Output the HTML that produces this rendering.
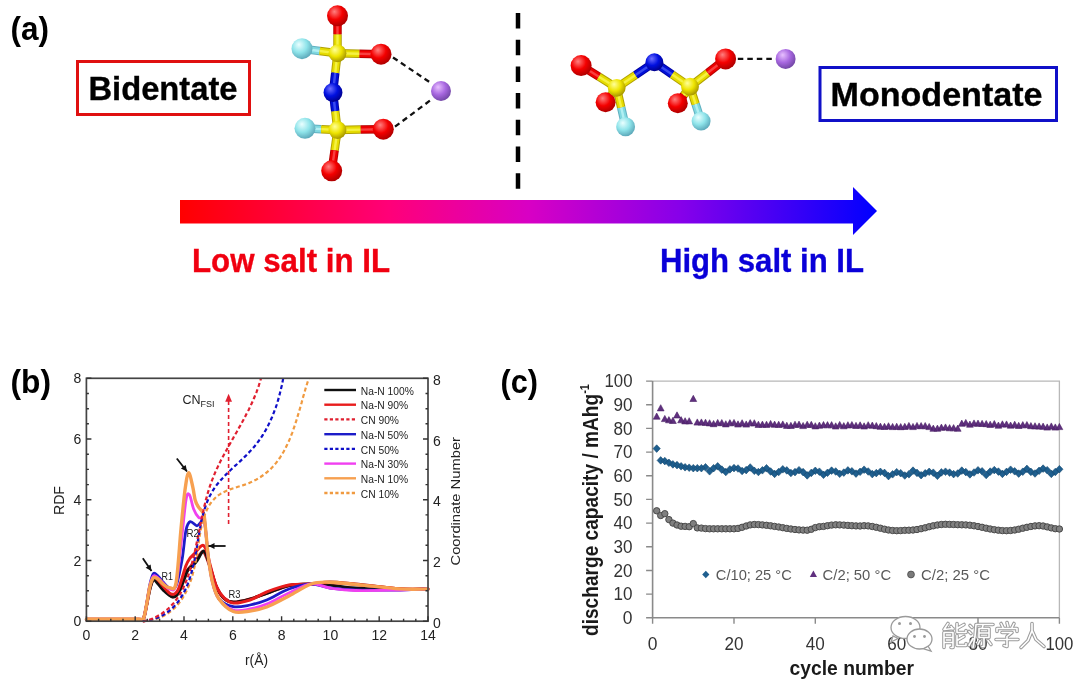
<!DOCTYPE html>
<html><head><meta charset="utf-8"><style>
html,body{margin:0;padding:0;background:#fff;}
svg{display:block;font-family:"Liberation Sans", sans-serif;filter:blur(0.45px);}
</style></head><body>
<svg width="1080" height="683" viewBox="0 0 1080 683">
<rect width="1080" height="683" fill="#fff"/>
<defs>
<radialGradient id="gO" cx="0.4" cy="0.35" r="0.65" fx="0.35" fy="0.3"><stop offset="0" stop-color="#ff8080"/><stop offset="0.55" stop-color="#f40000"/><stop offset="1" stop-color="#b00000"/></radialGradient>
<radialGradient id="gS" cx="0.4" cy="0.35" r="0.65" fx="0.35" fy="0.3"><stop offset="0" stop-color="#ffff9a"/><stop offset="0.55" stop-color="#eee400"/><stop offset="1" stop-color="#a89800"/></radialGradient>
<radialGradient id="gN" cx="0.4" cy="0.35" r="0.65" fx="0.35" fy="0.3"><stop offset="0" stop-color="#7070ff"/><stop offset="0.55" stop-color="#0010e0"/><stop offset="1" stop-color="#000090"/></radialGradient>
<radialGradient id="gF" cx="0.4" cy="0.35" r="0.65" fx="0.35" fy="0.3"><stop offset="0" stop-color="#eaffff"/><stop offset="0.55" stop-color="#8fe4ea"/><stop offset="1" stop-color="#5eaabb"/></radialGradient>
<radialGradient id="gNa" cx="0.4" cy="0.35" r="0.65" fx="0.35" fy="0.3"><stop offset="0" stop-color="#e8c0ff"/><stop offset="0.55" stop-color="#a868e0"/><stop offset="1" stop-color="#7448a8"/></radialGradient>
<linearGradient id="arr" x1="180" y1="0" x2="877" y2="0" gradientUnits="userSpaceOnUse"><stop offset="0" stop-color="#ff0000"/><stop offset="0.3" stop-color="#ff0078"/><stop offset="0.5" stop-color="#d800c4"/><stop offset="0.72" stop-color="#8600ea"/><stop offset="1" stop-color="#0000ff"/></linearGradient>
</defs>
<text x="10.5" y="40" font-size="33.5" font-weight="bold" fill="#000" text-anchor="start" textLength="38.5" lengthAdjust="spacingAndGlyphs" >(a)</text>
<rect x="77.5" y="61.5" width="172" height="53" fill="none" stroke="#e01010" stroke-width="3"/>
<text x="88.5" y="100" font-size="33.5" font-weight="bold" fill="#000" text-anchor="start" textLength="149" lengthAdjust="spacingAndGlyphs"  stroke="#000" stroke-width="0.35">Bidentate</text>
<rect x="820" y="67.5" width="236.5" height="53" fill="none" stroke="#1010c8" stroke-width="3"/>
<text x="830.5" y="105.7" font-size="32.5" font-weight="bold" fill="#000" text-anchor="start" textLength="212" lengthAdjust="spacingAndGlyphs"  stroke="#000" stroke-width="0.35">Monodentate</text>
<line x1="518" y1="13" x2="518" y2="190" stroke="#000" stroke-width="4.5" stroke-dasharray="15.5 11.2"/>
<polygon points="180,200 853,200 853,187 877,211 853,235 853,223.5 180,223.5" fill="url(#arr)"/>
<text x="192" y="271.7" font-size="32.8" font-weight="bold" fill="#f00010" text-anchor="start" textLength="198" lengthAdjust="spacingAndGlyphs"  stroke="#f00010" stroke-width="0.35">Low salt in IL</text>
<text x="660" y="271.7" font-size="32.8" font-weight="bold" fill="#0a00d8" text-anchor="start" textLength="204" lengthAdjust="spacingAndGlyphs"  stroke="#0a00d8" stroke-width="0.35">High salt in IL</text>
<line x1="337.5" y1="15.8" x2="337.5" y2="34.55" stroke="#b80000" stroke-width="8.5"/>
<line x1="337.5" y1="15.8" x2="337.5" y2="34.55" stroke="#ee0000" stroke-width="6.5"/>
<line x1="337.5" y1="15.8" x2="337.5" y2="34.55" stroke="#ff6a6a" stroke-width="2.4" opacity="0.6"/>
<line x1="337.5" y1="34.55" x2="337.5" y2="53.3" stroke="#b0a000" stroke-width="8.5"/>
<line x1="337.5" y1="34.55" x2="337.5" y2="53.3" stroke="#e6dc00" stroke-width="6.5"/>
<line x1="337.5" y1="34.55" x2="337.5" y2="53.3" stroke="#ffff70" stroke-width="2.4" opacity="0.6"/>
<line x1="302" y1="48.7" x2="319.75" y2="51.0" stroke="#60b0c0" stroke-width="8.5"/>
<line x1="302" y1="48.7" x2="319.75" y2="51.0" stroke="#80d8e0" stroke-width="6.5"/>
<line x1="302" y1="48.7" x2="319.75" y2="51.0" stroke="#d0ffff" stroke-width="2.4" opacity="0.6"/>
<line x1="319.75" y1="51.0" x2="337.5" y2="53.3" stroke="#b0a000" stroke-width="8.5"/>
<line x1="319.75" y1="51.0" x2="337.5" y2="53.3" stroke="#e6dc00" stroke-width="6.5"/>
<line x1="319.75" y1="51.0" x2="337.5" y2="53.3" stroke="#ffff70" stroke-width="2.4" opacity="0.6"/>
<line x1="381" y1="54.2" x2="359.25" y2="53.75" stroke="#b80000" stroke-width="8.5"/>
<line x1="381" y1="54.2" x2="359.25" y2="53.75" stroke="#ee0000" stroke-width="6.5"/>
<line x1="381" y1="54.2" x2="359.25" y2="53.75" stroke="#ff6a6a" stroke-width="2.4" opacity="0.6"/>
<line x1="359.25" y1="53.75" x2="337.5" y2="53.3" stroke="#b0a000" stroke-width="8.5"/>
<line x1="359.25" y1="53.75" x2="337.5" y2="53.3" stroke="#e6dc00" stroke-width="6.5"/>
<line x1="359.25" y1="53.75" x2="337.5" y2="53.3" stroke="#ffff70" stroke-width="2.4" opacity="0.6"/>
<line x1="337.5" y1="53.3" x2="335.25" y2="72.9" stroke="#b0a000" stroke-width="8.5"/>
<line x1="337.5" y1="53.3" x2="335.25" y2="72.9" stroke="#e6dc00" stroke-width="6.5"/>
<line x1="337.5" y1="53.3" x2="335.25" y2="72.9" stroke="#ffff70" stroke-width="2.4" opacity="0.6"/>
<line x1="335.25" y1="72.9" x2="333" y2="92.5" stroke="#0000a0" stroke-width="8.5"/>
<line x1="335.25" y1="72.9" x2="333" y2="92.5" stroke="#0010d8" stroke-width="6.5"/>
<line x1="335.25" y1="72.9" x2="333" y2="92.5" stroke="#6070ff" stroke-width="2.4" opacity="0.6"/>
<line x1="333" y1="92.5" x2="335.25" y2="111.25" stroke="#0000a0" stroke-width="8.5"/>
<line x1="333" y1="92.5" x2="335.25" y2="111.25" stroke="#0010d8" stroke-width="6.5"/>
<line x1="333" y1="92.5" x2="335.25" y2="111.25" stroke="#6070ff" stroke-width="2.4" opacity="0.6"/>
<line x1="335.25" y1="111.25" x2="337.5" y2="130" stroke="#b0a000" stroke-width="8.5"/>
<line x1="335.25" y1="111.25" x2="337.5" y2="130" stroke="#e6dc00" stroke-width="6.5"/>
<line x1="335.25" y1="111.25" x2="337.5" y2="130" stroke="#ffff70" stroke-width="2.4" opacity="0.6"/>
<line x1="305" y1="128.3" x2="321.25" y2="129.15" stroke="#60b0c0" stroke-width="8.5"/>
<line x1="305" y1="128.3" x2="321.25" y2="129.15" stroke="#80d8e0" stroke-width="6.5"/>
<line x1="305" y1="128.3" x2="321.25" y2="129.15" stroke="#d0ffff" stroke-width="2.4" opacity="0.6"/>
<line x1="321.25" y1="129.15" x2="337.5" y2="130" stroke="#b0a000" stroke-width="8.5"/>
<line x1="321.25" y1="129.15" x2="337.5" y2="130" stroke="#e6dc00" stroke-width="6.5"/>
<line x1="321.25" y1="129.15" x2="337.5" y2="130" stroke="#ffff70" stroke-width="2.4" opacity="0.6"/>
<line x1="383.3" y1="129.2" x2="360.4" y2="129.6" stroke="#b80000" stroke-width="8.5"/>
<line x1="383.3" y1="129.2" x2="360.4" y2="129.6" stroke="#ee0000" stroke-width="6.5"/>
<line x1="383.3" y1="129.2" x2="360.4" y2="129.6" stroke="#ff6a6a" stroke-width="2.4" opacity="0.6"/>
<line x1="360.4" y1="129.6" x2="337.5" y2="130" stroke="#b0a000" stroke-width="8.5"/>
<line x1="360.4" y1="129.6" x2="337.5" y2="130" stroke="#e6dc00" stroke-width="6.5"/>
<line x1="360.4" y1="129.6" x2="337.5" y2="130" stroke="#ffff70" stroke-width="2.4" opacity="0.6"/>
<line x1="337.5" y1="130" x2="334.6" y2="150.4" stroke="#b0a000" stroke-width="8.5"/>
<line x1="337.5" y1="130" x2="334.6" y2="150.4" stroke="#e6dc00" stroke-width="6.5"/>
<line x1="337.5" y1="130" x2="334.6" y2="150.4" stroke="#ffff70" stroke-width="2.4" opacity="0.6"/>
<line x1="334.6" y1="150.4" x2="331.7" y2="170.8" stroke="#b80000" stroke-width="8.5"/>
<line x1="334.6" y1="150.4" x2="331.7" y2="170.8" stroke="#ee0000" stroke-width="6.5"/>
<line x1="334.6" y1="150.4" x2="331.7" y2="170.8" stroke="#ff6a6a" stroke-width="2.4" opacity="0.6"/>
<line x1="393" y1="57.5" x2="431" y2="83" stroke="#111" stroke-width="2.3" stroke-dasharray="5.5 4"/>
<line x1="395" y1="126.7" x2="430.8" y2="100" stroke="#111" stroke-width="2.3" stroke-dasharray="5.5 4"/>
<circle cx="337.5" cy="15.8" r="10.5" fill="url(#gO)"/>
<circle cx="337.5" cy="53.3" r="8.925" fill="url(#gS)"/>
<circle cx="302" cy="48.7" r="10.5" fill="url(#gF)"/>
<circle cx="381" cy="54.2" r="10.5" fill="url(#gO)"/>
<circle cx="333" cy="92.5" r="9.450000000000001" fill="url(#gN)"/>
<circle cx="337.5" cy="130" r="8.925" fill="url(#gS)"/>
<circle cx="305" cy="128.3" r="10.5" fill="url(#gF)"/>
<circle cx="383.3" cy="129.2" r="10.5" fill="url(#gO)"/>
<circle cx="331.7" cy="170.8" r="10.5" fill="url(#gO)"/>
<circle cx="441" cy="91" r="9.975" fill="url(#gNa)"/>
<line x1="581.1" y1="65.6" x2="598.9000000000001" y2="76.69999999999999" stroke="#b80000" stroke-width="8.5"/>
<line x1="581.1" y1="65.6" x2="598.9000000000001" y2="76.69999999999999" stroke="#ee0000" stroke-width="6.5"/>
<line x1="581.1" y1="65.6" x2="598.9000000000001" y2="76.69999999999999" stroke="#ff6a6a" stroke-width="2.4" opacity="0.6"/>
<line x1="598.9000000000001" y1="76.69999999999999" x2="616.7" y2="87.8" stroke="#b0a000" stroke-width="8.5"/>
<line x1="598.9000000000001" y1="76.69999999999999" x2="616.7" y2="87.8" stroke="#e6dc00" stroke-width="6.5"/>
<line x1="598.9000000000001" y1="76.69999999999999" x2="616.7" y2="87.8" stroke="#ffff70" stroke-width="2.4" opacity="0.6"/>
<line x1="605.6" y1="102.2" x2="611.1500000000001" y2="95.0" stroke="#b80000" stroke-width="8.5"/>
<line x1="605.6" y1="102.2" x2="611.1500000000001" y2="95.0" stroke="#ee0000" stroke-width="6.5"/>
<line x1="605.6" y1="102.2" x2="611.1500000000001" y2="95.0" stroke="#ff6a6a" stroke-width="2.4" opacity="0.6"/>
<line x1="611.1500000000001" y1="95.0" x2="616.7" y2="87.8" stroke="#b0a000" stroke-width="8.5"/>
<line x1="611.1500000000001" y1="95.0" x2="616.7" y2="87.8" stroke="#e6dc00" stroke-width="6.5"/>
<line x1="611.1500000000001" y1="95.0" x2="616.7" y2="87.8" stroke="#ffff70" stroke-width="2.4" opacity="0.6"/>
<line x1="625.6" y1="126.7" x2="621.1500000000001" y2="107.25" stroke="#60b0c0" stroke-width="8.5"/>
<line x1="625.6" y1="126.7" x2="621.1500000000001" y2="107.25" stroke="#80d8e0" stroke-width="6.5"/>
<line x1="625.6" y1="126.7" x2="621.1500000000001" y2="107.25" stroke="#d0ffff" stroke-width="2.4" opacity="0.6"/>
<line x1="621.1500000000001" y1="107.25" x2="616.7" y2="87.8" stroke="#b0a000" stroke-width="8.5"/>
<line x1="621.1500000000001" y1="107.25" x2="616.7" y2="87.8" stroke="#e6dc00" stroke-width="6.5"/>
<line x1="621.1500000000001" y1="107.25" x2="616.7" y2="87.8" stroke="#ffff70" stroke-width="2.4" opacity="0.6"/>
<line x1="616.7" y1="87.8" x2="635.55" y2="75.0" stroke="#b0a000" stroke-width="8.5"/>
<line x1="616.7" y1="87.8" x2="635.55" y2="75.0" stroke="#e6dc00" stroke-width="6.5"/>
<line x1="616.7" y1="87.8" x2="635.55" y2="75.0" stroke="#ffff70" stroke-width="2.4" opacity="0.6"/>
<line x1="635.55" y1="75.0" x2="654.4" y2="62.2" stroke="#0000a0" stroke-width="8.5"/>
<line x1="635.55" y1="75.0" x2="654.4" y2="62.2" stroke="#0010d8" stroke-width="6.5"/>
<line x1="635.55" y1="75.0" x2="654.4" y2="62.2" stroke="#6070ff" stroke-width="2.4" opacity="0.6"/>
<line x1="654.4" y1="62.2" x2="672.2" y2="74.45" stroke="#0000a0" stroke-width="8.5"/>
<line x1="654.4" y1="62.2" x2="672.2" y2="74.45" stroke="#0010d8" stroke-width="6.5"/>
<line x1="654.4" y1="62.2" x2="672.2" y2="74.45" stroke="#6070ff" stroke-width="2.4" opacity="0.6"/>
<line x1="672.2" y1="74.45" x2="690" y2="86.7" stroke="#b0a000" stroke-width="8.5"/>
<line x1="672.2" y1="74.45" x2="690" y2="86.7" stroke="#e6dc00" stroke-width="6.5"/>
<line x1="672.2" y1="74.45" x2="690" y2="86.7" stroke="#ffff70" stroke-width="2.4" opacity="0.6"/>
<line x1="677.8" y1="103.3" x2="683.9" y2="95.0" stroke="#b80000" stroke-width="8.5"/>
<line x1="677.8" y1="103.3" x2="683.9" y2="95.0" stroke="#ee0000" stroke-width="6.5"/>
<line x1="677.8" y1="103.3" x2="683.9" y2="95.0" stroke="#ff6a6a" stroke-width="2.4" opacity="0.6"/>
<line x1="683.9" y1="95.0" x2="690" y2="86.7" stroke="#b0a000" stroke-width="8.5"/>
<line x1="683.9" y1="95.0" x2="690" y2="86.7" stroke="#e6dc00" stroke-width="6.5"/>
<line x1="683.9" y1="95.0" x2="690" y2="86.7" stroke="#ffff70" stroke-width="2.4" opacity="0.6"/>
<line x1="701.1" y1="121.1" x2="695.55" y2="103.9" stroke="#60b0c0" stroke-width="8.5"/>
<line x1="701.1" y1="121.1" x2="695.55" y2="103.9" stroke="#80d8e0" stroke-width="6.5"/>
<line x1="701.1" y1="121.1" x2="695.55" y2="103.9" stroke="#d0ffff" stroke-width="2.4" opacity="0.6"/>
<line x1="695.55" y1="103.9" x2="690" y2="86.7" stroke="#b0a000" stroke-width="8.5"/>
<line x1="695.55" y1="103.9" x2="690" y2="86.7" stroke="#e6dc00" stroke-width="6.5"/>
<line x1="695.55" y1="103.9" x2="690" y2="86.7" stroke="#ffff70" stroke-width="2.4" opacity="0.6"/>
<line x1="690" y1="86.7" x2="707.8" y2="72.8" stroke="#b0a000" stroke-width="8.5"/>
<line x1="690" y1="86.7" x2="707.8" y2="72.8" stroke="#e6dc00" stroke-width="6.5"/>
<line x1="690" y1="86.7" x2="707.8" y2="72.8" stroke="#ffff70" stroke-width="2.4" opacity="0.6"/>
<line x1="707.8" y1="72.8" x2="725.6" y2="58.9" stroke="#b80000" stroke-width="8.5"/>
<line x1="707.8" y1="72.8" x2="725.6" y2="58.9" stroke="#ee0000" stroke-width="6.5"/>
<line x1="707.8" y1="72.8" x2="725.6" y2="58.9" stroke="#ff6a6a" stroke-width="2.4" opacity="0.6"/>
<line x1="737.8" y1="58.9" x2="774.4" y2="58.9" stroke="#111" stroke-width="2.3" stroke-dasharray="5.5 4"/>
<circle cx="605.6" cy="102.2" r="9.975" fill="url(#gO)"/>
<circle cx="677.8" cy="103.3" r="9.975" fill="url(#gO)"/>
<circle cx="625.6" cy="126.7" r="9.450000000000001" fill="url(#gF)"/>
<circle cx="701.1" cy="121.1" r="9.450000000000001" fill="url(#gF)"/>
<circle cx="616.7" cy="87.8" r="8.925" fill="url(#gS)"/>
<circle cx="690" cy="86.7" r="8.925" fill="url(#gS)"/>
<circle cx="581.1" cy="65.6" r="10.5" fill="url(#gO)"/>
<circle cx="654.4" cy="62.2" r="8.925" fill="url(#gN)"/>
<circle cx="725.6" cy="58.9" r="10.5" fill="url(#gO)"/>
<circle cx="785.6" cy="58.9" r="9.975" fill="url(#gNa)"/>
<text x="10.5" y="392.5" font-size="33" font-weight="bold" fill="#000" text-anchor="start" textLength="40.5" lengthAdjust="spacingAndGlyphs" >(b)</text>
<g fill="none" stroke-linejoin="round" stroke-linecap="round">
<path d="M86.4,619.3 C95.0,619.3 128.5,619.3 138.0,619.3 C147.5,619.2 141.9,621.2 143.3,619.0 C144.7,616.8 145.4,611.2 146.5,606.0 C147.6,600.8 148.8,592.5 150.0,588.0 C151.2,583.5 152.2,580.0 153.5,579.0 C154.8,578.0 156.4,580.5 158.0,582.0 C159.6,583.5 160.7,585.6 163.0,588.0 C165.3,590.4 169.4,595.7 171.9,596.5 C174.4,597.3 175.7,596.9 178.0,593.0 C180.3,589.1 183.5,577.7 185.8,573.0 C188.1,568.3 190.0,567.3 191.9,565.0 C193.8,562.7 195.2,561.2 197.0,559.0 C198.8,556.8 201.2,552.0 202.7,551.5 C204.2,551.0 204.7,553.2 206.0,556.0 C207.3,558.8 208.7,562.8 210.4,568.0 C212.2,573.2 214.2,581.9 216.5,587.0 C218.8,592.1 221.4,596.0 224.2,598.5 C227.0,601.0 229.0,602.1 233.3,602.2 C237.6,602.3 244.4,600.5 250.0,599.0 C255.6,597.5 260.2,595.5 266.7,593.3 C273.2,591.1 281.5,587.1 288.9,585.6 C296.3,584.1 304.2,584.6 311.1,584.0 C318.0,583.4 322.6,582.0 330.0,582.0 C337.4,582.0 343.9,582.9 355.6,584.0 C367.3,585.1 387.9,588.1 400.0,588.9 C412.1,589.7 423.3,589.0 428.0,589.0" stroke="#b01818" stroke-width="3.2"/>
<path d="M86.4,619.3 C95.0,619.3 128.5,619.3 138.0,619.3 C147.5,619.2 141.9,621.2 143.3,619.0 C144.7,616.8 145.4,611.0 146.5,606.0 C147.6,601.0 148.8,593.3 150.0,589.0 C151.2,584.7 152.2,580.8 153.5,580.0 C154.8,579.2 156.4,582.3 158.0,584.0 C159.6,585.7 160.7,587.9 163.0,590.0 C165.3,592.1 169.4,596.2 171.9,596.9 C174.4,597.6 176.0,596.8 178.0,594.0 C180.0,591.2 182.3,584.0 184.0,580.0 C185.7,576.0 186.7,572.2 188.0,570.0 C189.3,567.8 190.4,568.0 191.9,566.5 C193.4,565.0 195.2,563.5 197.0,561.0 C198.8,558.5 201.2,552.7 202.7,551.5 C204.2,550.3 204.7,551.2 206.0,554.0 C207.3,556.8 208.7,562.5 210.4,568.0 C212.2,573.5 214.2,581.9 216.5,587.0 C218.8,592.1 221.4,596.0 224.2,598.5 C227.0,601.0 229.0,602.1 233.3,602.2 C237.6,602.3 244.4,600.5 250.0,599.0 C255.6,597.5 260.2,595.5 266.7,593.3 C273.2,591.1 281.5,587.1 288.9,585.6 C296.3,584.1 304.2,584.1 311.1,584.0 C318.0,583.9 322.6,584.3 330.0,585.0 C337.4,585.7 343.9,587.2 355.6,588.0 C367.3,588.8 387.9,589.3 400.0,589.5 C412.1,589.7 423.3,589.1 428.0,589.0" stroke="#101010" stroke-width="2.8"/>
<path d="M86.4,619.3 C95.0,619.3 128.5,619.3 138.0,619.3 C147.5,619.2 141.9,621.4 143.3,619.0 C144.7,616.6 145.4,610.5 146.5,605.0 C147.6,599.5 148.8,590.7 150.0,586.0 C151.2,581.3 152.2,578.0 153.5,577.0 C154.8,576.0 156.4,578.5 158.0,580.0 C159.6,581.5 160.8,583.7 163.0,586.0 C165.2,588.3 168.5,593.3 171.0,594.0 C173.5,594.7 175.5,594.7 178.0,590.0 C180.5,585.3 183.7,571.4 185.8,566.0 C187.9,560.6 188.9,559.9 190.4,557.7 C191.9,555.5 193.4,554.8 195.0,553.0 C196.6,551.2 198.6,548.3 200.0,547.0 C201.4,545.7 202.3,544.6 203.5,545.4 C204.7,546.2 205.8,548.6 207.0,552.0 C208.2,555.4 208.8,560.2 210.4,566.0 C212.0,571.8 214.2,581.3 216.5,586.6 C218.8,591.9 221.4,595.3 224.2,598.0 C227.0,600.7 229.0,602.7 233.3,603.0 C237.6,603.3 244.4,601.8 250.0,600.0 C255.6,598.2 260.2,594.5 266.7,592.0 C273.2,589.5 281.5,586.3 288.9,585.0 C296.3,583.7 304.2,584.4 311.1,584.0 C318.0,583.6 322.6,582.4 330.0,582.5 C337.4,582.6 343.9,583.3 355.6,584.4 C367.3,585.5 387.9,588.1 400.0,588.9 C412.1,589.7 423.3,589.0 428.0,589.0" stroke="#e81c1c" stroke-width="3"/>
<path d="M86.4,619.3 C95.0,619.3 128.5,619.3 138.0,619.3 C147.5,619.2 141.9,621.4 143.3,619.0 C144.7,616.6 145.4,610.8 146.5,605.0 C147.6,599.2 148.8,589.2 150.0,584.0 C151.2,578.8 152.2,574.8 153.5,573.5 C154.8,572.2 156.4,574.6 158.0,576.0 C159.6,577.4 161.1,580.0 163.0,582.0 C164.9,584.0 167.4,587.3 169.6,588.0 C171.8,588.7 173.9,590.7 176.0,586.0 C178.1,581.3 180.3,569.3 182.0,560.0 C183.7,550.7 184.6,536.4 186.0,530.0 C187.4,523.6 188.5,522.3 190.3,521.6 C192.1,520.9 195.2,525.8 197.0,525.8 C198.8,525.8 200.0,522.9 201.2,521.6 C202.4,520.3 203.3,516.6 204.0,518.0 C204.7,519.4 204.8,523.1 205.6,530.0 C206.4,536.9 207.4,550.8 208.6,559.5 C209.8,568.2 210.8,575.6 212.5,582.2 C214.2,588.8 215.5,594.9 219.0,599.0 C222.5,603.1 228.1,605.7 233.3,606.7 C238.5,607.7 244.4,606.1 250.0,605.0 C255.6,603.9 260.2,602.7 266.7,600.0 C273.2,597.3 281.5,591.7 288.9,589.0 C296.3,586.3 304.2,584.2 311.1,584.0 C318.0,583.8 322.6,587.0 330.0,588.0 C337.4,589.0 343.9,589.7 355.6,590.0 C367.3,590.3 387.9,590.2 400.0,590.0 C412.1,589.8 423.3,589.2 428.0,589.0" stroke="#1c1cc8" stroke-width="2.8"/>
<path d="M86.4,619.3 C95.0,619.3 128.5,619.3 138.0,619.3 C147.5,619.2 141.9,621.4 143.3,619.0 C144.7,616.6 145.4,610.7 146.5,605.0 C147.6,599.3 148.8,589.8 150.0,585.0 C151.2,580.2 152.2,577.2 153.5,576.0 C154.8,574.8 156.4,576.8 158.0,578.0 C159.6,579.2 161.1,581.2 163.0,583.0 C164.9,584.8 167.4,588.7 169.6,589.0 C171.8,589.3 174.0,593.2 176.0,585.0 C178.0,576.8 179.8,554.2 181.5,540.0 C183.2,525.8 184.7,507.6 186.0,500.0 C187.3,492.4 188.1,493.2 189.4,494.7 C190.7,496.2 192.1,505.2 193.6,509.0 C195.1,512.8 197.0,515.8 198.7,517.4 C200.3,519.0 202.3,516.4 203.5,518.5 C204.7,520.6 204.8,523.2 205.6,530.0 C206.4,536.8 207.4,550.8 208.6,559.5 C209.8,568.2 210.8,575.6 212.5,582.2 C214.2,588.8 215.5,594.4 219.0,599.0 C222.5,603.6 228.1,608.3 233.3,610.0 C238.5,611.7 244.4,610.0 250.0,609.0 C255.6,608.0 260.2,606.7 266.7,604.0 C273.2,601.3 281.5,596.3 288.9,593.0 C296.3,589.7 304.2,584.8 311.1,584.0 C318.0,583.2 322.6,586.9 330.0,588.0 C337.4,589.1 343.9,590.2 355.6,590.5 C367.3,590.8 387.9,590.2 400.0,590.0 C412.1,589.8 423.3,589.2 428.0,589.0" stroke="#f040f0" stroke-width="2.8"/>
<path d="M86.4,619.3 C95.0,619.3 128.5,619.3 138.0,619.3 C147.5,619.2 141.9,621.4 143.3,619.0 C144.7,616.6 145.4,610.5 146.5,605.0 C147.6,599.5 148.8,590.5 150.0,586.0 C151.2,581.5 152.2,578.9 153.5,577.7 C154.8,576.5 156.4,578.0 158.0,579.0 C159.6,580.0 161.1,582.5 163.0,584.0 C164.9,585.5 167.4,587.9 169.6,587.7 C171.8,587.5 174.1,592.8 176.0,583.0 C177.9,573.2 179.5,544.5 181.0,529.0 C182.5,513.5 183.7,499.4 185.0,490.0 C186.3,480.6 187.3,473.3 188.6,472.8 C189.9,472.3 191.7,482.5 192.8,487.1 C193.9,491.7 194.3,497.2 195.3,500.6 C196.3,504.0 197.3,505.1 198.7,507.3 C200.1,509.5 202.5,510.4 203.7,514.0 C204.8,517.6 204.8,521.6 205.6,529.2 C206.4,536.8 207.4,550.7 208.6,559.5 C209.8,568.3 210.8,575.6 212.5,582.2 C214.2,588.8 215.5,594.1 219.0,599.0 C222.5,603.9 228.1,609.5 233.3,611.5 C238.5,613.5 244.4,611.8 250.0,611.0 C255.6,610.2 260.2,609.5 266.7,607.0 C273.2,604.5 281.5,599.8 288.9,596.0 C296.3,592.2 304.4,586.3 311.1,584.0 C317.8,581.7 321.5,582.1 328.9,582.2 C336.3,582.3 343.8,583.3 355.6,584.4 C367.5,585.5 387.9,588.1 400.0,588.9 C412.1,589.7 423.3,589.0 428.0,589.0" stroke="#f7a050" stroke-width="3.4"/>
<path d="M142.7,621.1 L145.8,620.9 L148.8,620.5 L151.6,620.0 L154.4,619.4 L157.0,618.6 L159.5,617.7 L161.9,616.7 L164.3,615.5 L166.5,614.3 L168.6,612.9 L170.6,611.4 L172.6,609.8 L174.4,608.2 L176.2,606.4 L177.9,604.5 L179.4,602.6 L181.0,600.5 L182.4,598.4 L183.7,596.2 L185.0,594.0 L186.2,591.6 L187.4,589.2 L188.4,586.8 L189.4,584.3 L190.4,581.7 L191.3,579.1 L192.1,576.5 L192.8,573.8 L193.5,571.1 L194.2,568.3 L194.8,565.6 L195.4,562.8 L195.9,560.0 L196.4,557.2 L196.9,554.3 L197.3,551.5 L197.7,548.7 L198.1,545.8 L198.6,543.0 L199.0,540.2 L199.4,537.5 L199.9,534.7 L200.4,532.0 L200.9,529.3 L201.4,526.7 L202.0,524.1 L202.7,521.5 L203.4,519.0 L204.1,516.6 L205.0,514.2 L205.9,511.9 L206.9,509.7 L208.0,507.6 L209.1,505.5 L210.4,503.5 L211.8,501.6 L213.3,499.9 L214.9,498.2 L216.7,496.6 L218.6,495.1 L220.6,493.8 L222.8,492.5 L225.1,491.4 L227.6,490.4 L230.1,489.4 L232.7,488.5 L235.3,487.7 L238.0,486.8 L240.7,486.0 L243.4,485.1 L246.1,484.2 L248.7,483.2 L251.2,482.1 L253.6,480.9 L256.0,479.7 L258.3,478.4 L260.5,477.0 L262.7,475.5 L264.8,474.0 L266.8,472.3 L268.8,470.6 L270.7,468.9 L272.5,467.0 L274.2,465.1 L275.9,463.1 L277.5,461.1 L279.0,459.0 L280.5,456.8 L281.9,454.5 L283.3,452.2 L284.6,449.9 L285.8,447.5 L287.0,445.1 L288.2,442.6 L289.3,440.1 L290.4,437.5 L291.4,434.9 L292.4,432.3 L293.3,429.7 L294.2,427.1 L295.1,424.4 L296.0,421.7 L296.8,419.1 L297.6,416.4 L298.4,413.7 L299.2,411.0 L300.0,408.4 L300.7,405.7 L301.5,403.1 L302.2,400.5 L302.9,397.9 L303.6,395.3 L304.4,392.8 L305.1,390.3 L305.8,387.8 L306.6,385.4 L307.3,383.0 L308.1,380.7 L308.9,378.4" stroke="#f09a40" stroke-width="2.2" stroke-dasharray="4 2.6" stroke-linecap="butt"/>
<path d="M142.7,621.1 L145.5,620.8 L148.3,620.3 L150.9,619.8 L153.5,619.1 L156.0,618.3 L158.3,617.4 L160.6,616.3 L162.7,615.2 L164.8,614.0 L166.8,612.7 L168.7,611.3 L170.5,609.8 L172.3,608.2 L173.9,606.6 L175.5,604.9 L177.0,603.1 L178.5,601.2 L179.8,599.2 L181.1,597.2 L182.4,595.2 L183.5,593.1 L184.7,590.9 L185.7,588.7 L186.7,586.4 L187.7,584.1 L188.5,581.8 L189.4,579.4 L190.2,577.0 L190.9,574.6 L191.6,572.1 L192.3,569.7 L192.9,567.2 L193.5,564.7 L194.1,562.1 L194.6,559.6 L195.1,557.1 L195.6,554.6 L196.0,552.0 L196.5,549.5 L196.9,546.9 L197.3,544.4 L197.7,541.9 L198.1,539.3 L198.6,536.8 L199.0,534.3 L199.4,531.8 L199.9,529.3 L200.3,526.8 L200.8,524.4 L201.3,521.9 L201.8,519.5 L202.4,517.1 L203.0,514.7 L203.6,512.4 L204.3,510.0 L205.0,507.8 L205.8,505.5 L206.6,503.2 L207.5,501.0 L208.4,498.9 L209.4,496.7 L210.5,494.7 L211.6,492.6 L212.8,490.6 L214.1,488.6 L215.4,486.7 L216.8,484.8 L218.3,483.0 L219.8,481.2 L221.4,479.4 L223.1,477.6 L224.7,475.8 L226.4,474.1 L228.2,472.4 L229.9,470.7 L231.7,469.0 L233.5,467.3 L235.3,465.6 L237.2,464.0 L239.0,462.3 L240.8,460.6 L242.6,458.9 L244.4,457.1 L246.2,455.4 L247.9,453.6 L249.6,451.8 L251.3,450.0 L253.0,448.2 L254.6,446.3 L256.1,444.4 L257.6,442.4 L259.1,440.5 L260.5,438.4 L261.9,436.4 L263.2,434.3 L264.4,432.2 L265.7,430.1 L266.9,427.9 L268.0,425.7 L269.1,423.5 L270.2,421.2 L271.2,419.0 L272.2,416.7 L273.1,414.4 L274.0,412.1 L274.9,409.7 L275.8,407.4 L276.6,405.0 L277.3,402.6 L278.1,400.2 L278.7,397.8 L279.4,395.3 L280.0,392.9 L280.6,390.4 L281.2,388.0 L281.8,385.5 L282.3,383.0 L282.8,380.6 L283.2,378.1" stroke="#1010c8" stroke-width="2.2" stroke-dasharray="4 2.6" stroke-linecap="butt"/>
<path d="M143.0,621.7 L145.6,621.0 L148.1,620.2 L150.6,619.3 L152.9,618.4 L155.2,617.3 L157.3,616.2 L159.4,615.1 L161.4,613.8 L163.3,612.5 L165.2,611.2 L166.9,609.8 L168.6,608.3 L170.3,606.7 L171.8,605.1 L173.3,603.5 L174.7,601.8 L176.0,600.0 L177.3,598.2 L178.6,596.4 L179.7,594.5 L180.9,592.6 L181.9,590.6 L183.0,588.6 L183.9,586.5 L184.9,584.5 L185.7,582.4 L186.6,580.2 L187.4,578.1 L188.2,575.9 L188.9,573.7 L189.6,571.4 L190.3,569.2 L191.0,566.9 L191.6,564.7 L192.2,562.4 L192.8,560.1 L193.4,557.8 L193.9,555.4 L194.5,553.1 L195.0,550.8 L195.5,548.5 L196.0,546.1 L196.5,543.8 L197.0,541.4 L197.5,539.1 L197.9,536.7 L198.4,534.4 L198.9,532.0 L199.4,529.7 L199.8,527.3 L200.3,525.0 L200.8,522.6 L201.3,520.3 L201.7,517.9 L202.2,515.6 L202.7,513.3 L203.3,511.0 L203.8,508.6 L204.3,506.3 L204.9,504.0 L205.5,501.7 L206.0,499.4 L206.7,497.2 L207.3,494.9 L207.9,492.6 L208.6,490.4 L209.3,488.2 L210.0,485.9 L210.8,483.7 L211.6,481.5 L212.4,479.4 L213.3,477.2 L214.1,475.1 L215.0,472.9 L216.0,470.8 L216.9,468.7 L217.9,466.6 L218.9,464.5 L219.9,462.5 L220.9,460.4 L222.0,458.4 L223.1,456.3 L224.2,454.3 L225.3,452.2 L226.4,450.2 L227.5,448.2 L228.6,446.1 L229.8,444.1 L230.9,442.1 L232.0,440.1 L233.2,438.1 L234.3,436.0 L235.5,434.0 L236.7,432.0 L237.8,430.0 L238.9,427.9 L240.1,425.9 L241.2,423.9 L242.4,421.8 L243.5,419.8 L244.6,417.7 L245.7,415.6 L246.7,413.6 L247.8,411.5 L248.9,409.4 L249.9,407.3 L250.9,405.1 L251.9,403.0 L252.9,400.8 L253.8,398.7 L254.7,396.5 L255.6,394.3 L256.5,392.1 L257.3,389.9 L258.1,387.6 L258.9,385.3 L259.6,383.0 L260.3,380.7 L261.0,378.4" stroke="#e02030" stroke-width="2.2" stroke-dasharray="4 2.6" stroke-linecap="butt"/>
</g>
<line x1="228.6" y1="524" x2="228.6" y2="400" stroke="#e02030" stroke-width="1.6" stroke-dasharray="4 3"/>
<polygon points="228.6,393.7 225.2,401.8 232,401.8" fill="#e02030"/>
<line x1="176.8" y1="458.5" x2="187" y2="471.5" stroke="#111" stroke-width="1.8"/>
<polygon points="187.0,471.5 180.9,468.6 185.7,464.9" fill="#111"/>
<line x1="142.8" y1="558.2" x2="151.5" y2="571" stroke="#111" stroke-width="1.8"/>
<polygon points="151.5,571.0 145.6,567.7 150.6,564.4" fill="#111"/>
<line x1="225.6" y1="546" x2="208.5" y2="546" stroke="#111" stroke-width="1.8"/>
<polygon points="208.5,546.0 214.5,543.0 214.5,549.0" fill="#111"/>
<text x="161.5" y="580" font-size="11" font-weight="normal" fill="#222" text-anchor="start" textLength="11.5" lengthAdjust="spacingAndGlyphs" >R1</text>
<text x="186.5" y="537" font-size="11" font-weight="normal" fill="#222" text-anchor="start" textLength="12.5" lengthAdjust="spacingAndGlyphs" >R2</text>
<text x="228.5" y="598" font-size="11" font-weight="normal" fill="#222" text-anchor="start" textLength="12" lengthAdjust="spacingAndGlyphs" >R3</text>
<text x="182.5" y="403.5" font-size="12.5" fill="#222">CN<tspan font-size="9" dy="3.5">FSI</tspan></text>
<line x1="324.3" y1="390.0" x2="356" y2="390.0" stroke="#101010" stroke-width="2.4"/>
<text x="360.8" y="394.6" font-size="10.8" font-weight="normal" fill="#222" text-anchor="start" textLength="53.0" lengthAdjust="spacingAndGlyphs" >Na-N 100%</text>
<line x1="324.3" y1="404.7" x2="356" y2="404.7" stroke="#e81c1c" stroke-width="2.4"/>
<text x="360.8" y="409.3" font-size="10.8" font-weight="normal" fill="#222" text-anchor="start" textLength="47.3" lengthAdjust="spacingAndGlyphs" >Na-N 90%</text>
<line x1="324.3" y1="419.4" x2="356" y2="419.4" stroke="#e02030" stroke-width="2.4" stroke-dasharray="3.2 2.3"/>
<text x="360.8" y="424.0" font-size="10.8" font-weight="normal" fill="#222" text-anchor="start" textLength="38.2" lengthAdjust="spacingAndGlyphs" >CN 90%</text>
<line x1="324.3" y1="434.2" x2="356" y2="434.2" stroke="#1c1cc8" stroke-width="2.4"/>
<text x="360.8" y="438.8" font-size="10.8" font-weight="normal" fill="#222" text-anchor="start" textLength="47.3" lengthAdjust="spacingAndGlyphs" >Na-N 50%</text>
<line x1="324.3" y1="448.9" x2="356" y2="448.9" stroke="#1010c8" stroke-width="2.4" stroke-dasharray="3.2 2.3"/>
<text x="360.8" y="453.5" font-size="10.8" font-weight="normal" fill="#222" text-anchor="start" textLength="38.2" lengthAdjust="spacingAndGlyphs" >CN 50%</text>
<line x1="324.3" y1="463.6" x2="356" y2="463.6" stroke="#f040f0" stroke-width="2.4"/>
<text x="360.8" y="468.2" font-size="10.8" font-weight="normal" fill="#222" text-anchor="start" textLength="47.3" lengthAdjust="spacingAndGlyphs" >Na-N 30%</text>
<line x1="324.3" y1="478.3" x2="356" y2="478.3" stroke="#f7a050" stroke-width="2.4"/>
<text x="360.8" y="482.9" font-size="10.8" font-weight="normal" fill="#222" text-anchor="start" textLength="47.3" lengthAdjust="spacingAndGlyphs" >Na-N 10%</text>
<line x1="324.3" y1="493.0" x2="356" y2="493.0" stroke="#f09a40" stroke-width="2.4" stroke-dasharray="3.2 2.3"/>
<text x="360.8" y="497.6" font-size="10.8" font-weight="normal" fill="#222" text-anchor="start" textLength="38.2" lengthAdjust="spacingAndGlyphs" >CN 10%</text>
<rect x="86.4" y="378.3" width="341.6" height="242.9" fill="none" stroke="#444" stroke-width="1.7"/>
<path d="M86.4,621.2v-5 M98.6,621.2v-2.5 M110.8,621.2v-2.5 M123.0,621.2v-2.5 M135.2,621.2v-5 M147.4,621.2v-2.5 M159.6,621.2v-2.5 M171.8,621.2v-2.5 M184.0,621.2v-5 M196.2,621.2v-2.5 M208.4,621.2v-2.5 M220.6,621.2v-2.5 M232.8,621.2v-5 M245.0,621.2v-2.5 M257.2,621.2v-2.5 M269.4,621.2v-2.5 M281.6,621.2v-5 M293.8,621.2v-2.5 M306.0,621.2v-2.5 M318.2,621.2v-2.5 M330.4,621.2v-5 M342.6,621.2v-2.5 M354.8,621.2v-2.5 M367.0,621.2v-2.5 M379.2,621.2v-5 M391.4,621.2v-2.5 M403.6,621.2v-2.5 M415.8,621.2v-2.5 M428.0,621.2v-5 M86.4,621.2h5 M428,621.2h-5 M86.4,606.0h2.5 M428,606.0h-2.5 M86.4,590.8h2.5 M428,590.8h-2.5 M86.4,575.7h2.5 M428,575.7h-2.5 M86.4,560.5h5 M428,560.5h-5 M86.4,545.3h2.5 M428,545.3h-2.5 M86.4,530.1h2.5 M428,530.1h-2.5 M86.4,514.9h2.5 M428,514.9h-2.5 M86.4,499.8h5 M428,499.8h-5 M86.4,484.6h2.5 M428,484.6h-2.5 M86.4,469.4h2.5 M428,469.4h-2.5 M86.4,454.2h2.5 M428,454.2h-2.5 M86.4,439.0h5 M428,439.0h-5 M86.4,423.8h2.5 M428,423.8h-2.5 M86.4,408.7h2.5 M428,408.7h-2.5 M86.4,393.5h2.5 M428,393.5h-2.5 M86.4,378.3h5 M428,378.3h-5" stroke="#333" stroke-width="1.4" fill="none"/>
<text x="77.5" y="626.2" font-size="14" font-weight="normal" fill="#222" text-anchor="middle" >0</text>
<text x="437" y="627.7" font-size="14" font-weight="normal" fill="#222" text-anchor="middle" >0</text>
<text x="77.5" y="565.5" font-size="14" font-weight="normal" fill="#222" text-anchor="middle" >2</text>
<text x="437" y="567.0" font-size="14" font-weight="normal" fill="#222" text-anchor="middle" >2</text>
<text x="77.5" y="504.8" font-size="14" font-weight="normal" fill="#222" text-anchor="middle" >4</text>
<text x="437" y="506.2" font-size="14" font-weight="normal" fill="#222" text-anchor="middle" >4</text>
<text x="77.5" y="444.0" font-size="14" font-weight="normal" fill="#222" text-anchor="middle" >6</text>
<text x="437" y="445.5" font-size="14" font-weight="normal" fill="#222" text-anchor="middle" >6</text>
<text x="77.5" y="383.3" font-size="14" font-weight="normal" fill="#222" text-anchor="middle" >8</text>
<text x="437" y="384.8" font-size="14" font-weight="normal" fill="#222" text-anchor="middle" >8</text>
<text x="86.4" y="639.8" font-size="14" font-weight="normal" fill="#222" text-anchor="middle" >0</text>
<text x="135.2" y="639.8" font-size="14" font-weight="normal" fill="#222" text-anchor="middle" >2</text>
<text x="184.0" y="639.8" font-size="14" font-weight="normal" fill="#222" text-anchor="middle" >4</text>
<text x="232.8" y="639.8" font-size="14" font-weight="normal" fill="#222" text-anchor="middle" >6</text>
<text x="281.6" y="639.8" font-size="14" font-weight="normal" fill="#222" text-anchor="middle" >8</text>
<text x="330.4" y="639.8" font-size="14" font-weight="normal" fill="#222" text-anchor="middle" >10</text>
<text x="379.2" y="639.8" font-size="14" font-weight="normal" fill="#222" text-anchor="middle" >12</text>
<text x="428.0" y="639.8" font-size="14" font-weight="normal" fill="#222" text-anchor="middle" >14</text>
<text x="245" y="664.5" font-size="14" font-weight="normal" fill="#222" text-anchor="start" textLength="23" lengthAdjust="spacingAndGlyphs" >r(Å)</text>
<text transform="translate(64,515) rotate(-90)" font-size="14" fill="#222" textLength="29" lengthAdjust="spacingAndGlyphs">RDF</text>
<text transform="translate(459.5,565.5) rotate(-90)" font-size="13.2" fill="#222" textLength="128.5" lengthAdjust="spacingAndGlyphs">Coordinate Number</text>
<text x="500.5" y="392.5" font-size="33" font-weight="bold" fill="#000" text-anchor="start" textLength="37.5" lengthAdjust="spacingAndGlyphs" >(c)</text>
<path d="M652.6,381.1H1059.4V617.8" fill="none" stroke="#b8b8b8" stroke-width="1.3"/>
<path d="M652.6,381.1V617.8H1059.4" fill="none" stroke="#8a8a8a" stroke-width="1.6"/>
<path d="M646.1,617.8h6.5 M646.1,594.1h6.5 M646.1,570.5h6.5 M646.1,546.8h6.5 M646.1,523.1h6.5 M646.1,499.4h6.5 M646.1,475.8h6.5 M646.1,452.1h6.5 M646.1,428.4h6.5 M646.1,404.8h6.5 M646.1,381.1h6.5 M652.6,617.8v6 M734.0,617.8v6 M815.3,617.8v6 M896.7,617.8v6 M978.0,617.8v6 M1059.4,617.8v6" stroke="#8a8a8a" stroke-width="1.4" fill="none"/>
<text x="622.8" y="624.1" font-size="18" font-weight="normal" fill="#333" text-anchor="start" textLength="9.7" lengthAdjust="spacingAndGlyphs" >0</text>
<text x="613.5" y="600.4" font-size="18" font-weight="normal" fill="#333" text-anchor="start" textLength="19" lengthAdjust="spacingAndGlyphs" >10</text>
<text x="613.5" y="576.8" font-size="18" font-weight="normal" fill="#333" text-anchor="start" textLength="19" lengthAdjust="spacingAndGlyphs" >20</text>
<text x="613.5" y="553.1" font-size="18" font-weight="normal" fill="#333" text-anchor="start" textLength="19" lengthAdjust="spacingAndGlyphs" >30</text>
<text x="613.5" y="529.4" font-size="18" font-weight="normal" fill="#333" text-anchor="start" textLength="19" lengthAdjust="spacingAndGlyphs" >40</text>
<text x="613.5" y="505.8" font-size="18" font-weight="normal" fill="#333" text-anchor="start" textLength="19" lengthAdjust="spacingAndGlyphs" >50</text>
<text x="613.5" y="482.1" font-size="18" font-weight="normal" fill="#333" text-anchor="start" textLength="19" lengthAdjust="spacingAndGlyphs" >60</text>
<text x="613.5" y="458.4" font-size="18" font-weight="normal" fill="#333" text-anchor="start" textLength="19" lengthAdjust="spacingAndGlyphs" >70</text>
<text x="613.5" y="434.7" font-size="18" font-weight="normal" fill="#333" text-anchor="start" textLength="19" lengthAdjust="spacingAndGlyphs" >80</text>
<text x="613.5" y="411.1" font-size="18" font-weight="normal" fill="#333" text-anchor="start" textLength="19" lengthAdjust="spacingAndGlyphs" >90</text>
<text x="604.5" y="387.4" font-size="18" font-weight="normal" fill="#333" text-anchor="start" textLength="28" lengthAdjust="spacingAndGlyphs" >100</text>
<text x="647.8" y="649.6" font-size="18" font-weight="normal" fill="#333" text-anchor="start" textLength="9.7" lengthAdjust="spacingAndGlyphs" >0</text>
<text x="724.5" y="649.6" font-size="18" font-weight="normal" fill="#333" text-anchor="start" textLength="19" lengthAdjust="spacingAndGlyphs" >20</text>
<text x="805.8" y="649.6" font-size="18" font-weight="normal" fill="#333" text-anchor="start" textLength="19" lengthAdjust="spacingAndGlyphs" >40</text>
<text x="887.2" y="649.6" font-size="18" font-weight="normal" fill="#333" text-anchor="start" textLength="19" lengthAdjust="spacingAndGlyphs" >60</text>
<text x="968.5" y="649.6" font-size="18" font-weight="normal" fill="#333" text-anchor="start" textLength="19" lengthAdjust="spacingAndGlyphs" >80</text>
<text x="1045.4" y="649.6" font-size="18" font-weight="normal" fill="#333" text-anchor="start" textLength="28" lengthAdjust="spacingAndGlyphs" >100</text>
<text x="789.5" y="675" font-size="19.5" font-weight="bold" fill="#1a1a1a" text-anchor="start" textLength="124.5" lengthAdjust="spacingAndGlyphs" >cycle number</text>
<text transform="translate(598,636) rotate(-90)" font-size="22.5" font-weight="bold" fill="#1a1a1a" textLength="252" lengthAdjust="spacingAndGlyphs">discharge capacity / mAhg<tspan font-size="13" dy="-9">-1</tspan></text>
<g fill="#808080" stroke="#4a4a4a" stroke-width="1"><circle cx="656.7" cy="510.8" r="3.2"/><circle cx="660.7" cy="515.5" r="3.2"/><circle cx="664.8" cy="513.7" r="3.2"/><circle cx="668.9" cy="519.6" r="3.2"/><circle cx="672.9" cy="523.1" r="3.2"/><circle cx="677.0" cy="525.0" r="3.2"/><circle cx="681.1" cy="526.2" r="3.2"/><circle cx="685.1" cy="526.4" r="3.2"/><circle cx="689.2" cy="526.7" r="3.2"/><circle cx="693.3" cy="523.6" r="3.2"/><circle cx="697.3" cy="527.9" r="3.2"/><circle cx="701.4" cy="528.1" r="3.2"/><circle cx="705.5" cy="528.6" r="3.2"/><circle cx="709.6" cy="528.8" r="3.2"/><circle cx="713.6" cy="528.8" r="3.2"/><circle cx="717.7" cy="528.8" r="3.2"/><circle cx="721.8" cy="528.8" r="3.2"/><circle cx="725.8" cy="528.8" r="3.2"/><circle cx="729.9" cy="528.8" r="3.2"/><circle cx="734.0" cy="528.8" r="3.2"/><circle cx="738.0" cy="528.4" r="3.2"/><circle cx="742.1" cy="527.3" r="3.2"/><circle cx="746.2" cy="526.0" r="3.2"/><circle cx="750.2" cy="524.9" r="3.2"/><circle cx="754.3" cy="524.5" r="3.2"/><circle cx="758.4" cy="524.6" r="3.2"/><circle cx="762.4" cy="524.9" r="3.2"/><circle cx="766.5" cy="525.3" r="3.2"/><circle cx="770.6" cy="525.8" r="3.2"/><circle cx="774.6" cy="526.4" r="3.2"/><circle cx="778.7" cy="527.0" r="3.2"/><circle cx="782.8" cy="527.7" r="3.2"/><circle cx="786.8" cy="528.4" r="3.2"/><circle cx="790.9" cy="529.0" r="3.2"/><circle cx="795.0" cy="529.5" r="3.2"/><circle cx="799.0" cy="529.9" r="3.2"/><circle cx="803.1" cy="530.1" r="3.2"/><circle cx="807.2" cy="530.2" r="3.2"/><circle cx="811.3" cy="529.3" r="3.2"/><circle cx="815.3" cy="527.6" r="3.2"/><circle cx="819.4" cy="526.7" r="3.2"/><circle cx="823.5" cy="526.4" r="3.2"/><circle cx="827.5" cy="525.7" r="3.2"/><circle cx="831.6" cy="525.1" r="3.2"/><circle cx="835.7" cy="524.8" r="3.2"/><circle cx="839.7" cy="524.9" r="3.2"/><circle cx="843.8" cy="525.1" r="3.2"/><circle cx="847.9" cy="525.4" r="3.2"/><circle cx="851.9" cy="525.7" r="3.2"/><circle cx="856.0" cy="525.9" r="3.2"/><circle cx="860.1" cy="526.0" r="3.2"/><circle cx="864.1" cy="525.7" r="3.2"/><circle cx="868.2" cy="525.9" r="3.2"/><circle cx="872.3" cy="526.5" r="3.2"/><circle cx="876.3" cy="527.3" r="3.2"/><circle cx="880.4" cy="528.2" r="3.2"/><circle cx="884.5" cy="529.2" r="3.2"/><circle cx="888.5" cy="530.0" r="3.2"/><circle cx="892.6" cy="530.5" r="3.2"/><circle cx="896.7" cy="530.7" r="3.2"/><circle cx="900.7" cy="530.6" r="3.2"/><circle cx="904.8" cy="530.3" r="3.2"/><circle cx="908.9" cy="530.2" r="3.2"/><circle cx="913.0" cy="530.0" r="3.2"/><circle cx="917.0" cy="529.5" r="3.2"/><circle cx="921.1" cy="528.7" r="3.2"/><circle cx="925.2" cy="527.8" r="3.2"/><circle cx="929.2" cy="526.7" r="3.2"/><circle cx="933.3" cy="525.8" r="3.2"/><circle cx="937.4" cy="525.0" r="3.2"/><circle cx="941.4" cy="524.5" r="3.2"/><circle cx="945.5" cy="524.3" r="3.2"/><circle cx="949.6" cy="524.4" r="3.2"/><circle cx="953.6" cy="524.5" r="3.2"/><circle cx="957.7" cy="524.7" r="3.2"/><circle cx="961.8" cy="524.8" r="3.2"/><circle cx="965.8" cy="524.9" r="3.2"/><circle cx="969.9" cy="525.2" r="3.2"/><circle cx="974.0" cy="525.8" r="3.2"/><circle cx="978.0" cy="526.5" r="3.2"/><circle cx="982.1" cy="527.3" r="3.2"/><circle cx="986.2" cy="528.2" r="3.2"/><circle cx="990.2" cy="529.0" r="3.2"/><circle cx="994.3" cy="529.7" r="3.2"/><circle cx="998.4" cy="530.2" r="3.2"/><circle cx="1002.4" cy="530.6" r="3.2"/><circle cx="1006.5" cy="530.7" r="3.2"/><circle cx="1010.6" cy="530.5" r="3.2"/><circle cx="1014.7" cy="530.0" r="3.2"/><circle cx="1018.7" cy="529.2" r="3.2"/><circle cx="1022.8" cy="528.2" r="3.2"/><circle cx="1026.9" cy="527.3" r="3.2"/><circle cx="1030.9" cy="526.5" r="3.2"/><circle cx="1035.0" cy="525.9" r="3.2"/><circle cx="1039.1" cy="525.7" r="3.2"/><circle cx="1043.1" cy="526.0" r="3.2"/><circle cx="1047.2" cy="526.9" r="3.2"/><circle cx="1051.3" cy="527.9" r="3.2"/><circle cx="1055.3" cy="528.7" r="3.2"/><circle cx="1059.4" cy="529.0" r="3.2"/></g>
<path d="M656.7,444.8l3.6,3.8l-3.6,3.8l-3.6,-3.8zM660.7,456.6l3.6,3.8l-3.6,3.8l-3.6,-3.8zM664.8,457.3l3.6,3.8l-3.6,3.8l-3.6,-3.8zM668.9,459.0l3.6,3.8l-3.6,3.8l-3.6,-3.8zM672.9,460.6l3.6,3.8l-3.6,3.8l-3.6,-3.8zM677.0,461.3l3.6,3.8l-3.6,3.8l-3.6,-3.8zM681.1,462.5l3.6,3.8l-3.6,3.8l-3.6,-3.8zM685.1,463.5l3.6,3.8l-3.6,3.8l-3.6,-3.8zM689.2,463.9l3.6,3.8l-3.6,3.8l-3.6,-3.8zM693.3,464.4l3.6,3.8l-3.6,3.8l-3.6,-3.8zM697.3,464.4l3.6,3.8l-3.6,3.8l-3.6,-3.8zM701.4,464.4l3.6,3.8l-3.6,3.8l-3.6,-3.8zM705.5,463.5l3.6,3.8l-3.6,3.8l-3.6,-3.8zM709.6,467.5l3.6,3.8l-3.6,3.8l-3.6,-3.8zM713.6,464.4l3.6,3.8l-3.6,3.8l-3.6,-3.8zM717.7,462.5l3.6,3.8l-3.6,3.8l-3.6,-3.8zM721.8,465.8l3.6,3.8l-3.6,3.8l-3.6,-3.8zM725.8,468.2l3.6,3.8l-3.6,3.8l-3.6,-3.8zM729.9,465.6l3.6,3.8l-3.6,3.8l-3.6,-3.8zM734.0,464.3l3.6,3.8l-3.6,3.8l-3.6,-3.8zM738.0,464.7l3.6,3.8l-3.6,3.8l-3.6,-3.8zM742.1,467.2l3.6,3.8l-3.6,3.8l-3.6,-3.8zM746.2,466.3l3.6,3.8l-3.6,3.8l-3.6,-3.8zM750.2,463.7l3.6,3.8l-3.6,3.8l-3.6,-3.8zM754.3,467.0l3.6,3.8l-3.6,3.8l-3.6,-3.8zM758.4,468.2l3.6,3.8l-3.6,3.8l-3.6,-3.8zM762.4,466.5l3.6,3.8l-3.6,3.8l-3.6,-3.8zM766.5,464.5l3.6,3.8l-3.6,3.8l-3.6,-3.8zM770.6,467.7l3.6,3.8l-3.6,3.8l-3.6,-3.8zM774.6,470.1l3.6,3.8l-3.6,3.8l-3.6,-3.8zM778.7,468.2l3.6,3.8l-3.6,3.8l-3.6,-3.8zM782.8,465.5l3.6,3.8l-3.6,3.8l-3.6,-3.8zM786.8,466.6l3.6,3.8l-3.6,3.8l-3.6,-3.8zM790.9,469.2l3.6,3.8l-3.6,3.8l-3.6,-3.8zM795.0,468.3l3.6,3.8l-3.6,3.8l-3.6,-3.8zM799.0,466.4l3.6,3.8l-3.6,3.8l-3.6,-3.8zM803.1,468.3l3.6,3.8l-3.6,3.8l-3.6,-3.8zM807.2,471.6l3.6,3.8l-3.6,3.8l-3.6,-3.8zM811.3,469.1l3.6,3.8l-3.6,3.8l-3.6,-3.8zM815.3,467.0l3.6,3.8l-3.6,3.8l-3.6,-3.8zM819.4,467.9l3.6,3.8l-3.6,3.8l-3.6,-3.8zM823.5,471.0l3.6,3.8l-3.6,3.8l-3.6,-3.8zM827.5,469.0l3.6,3.8l-3.6,3.8l-3.6,-3.8zM831.6,466.8l3.6,3.8l-3.6,3.8l-3.6,-3.8zM835.7,467.7l3.6,3.8l-3.6,3.8l-3.6,-3.8zM839.7,470.0l3.6,3.8l-3.6,3.8l-3.6,-3.8zM843.8,468.8l3.6,3.8l-3.6,3.8l-3.6,-3.8zM847.9,466.6l3.6,3.8l-3.6,3.8l-3.6,-3.8zM851.9,467.5l3.6,3.8l-3.6,3.8l-3.6,-3.8zM856.0,469.8l3.6,3.8l-3.6,3.8l-3.6,-3.8zM860.1,468.0l3.6,3.8l-3.6,3.8l-3.6,-3.8zM864.1,465.9l3.6,3.8l-3.6,3.8l-3.6,-3.8zM868.2,467.7l3.6,3.8l-3.6,3.8l-3.6,-3.8zM872.3,470.3l3.6,3.8l-3.6,3.8l-3.6,-3.8zM876.3,469.3l3.6,3.8l-3.6,3.8l-3.6,-3.8zM880.4,468.0l3.6,3.8l-3.6,3.8l-3.6,-3.8zM884.5,469.1l3.6,3.8l-3.6,3.8l-3.6,-3.8zM888.5,472.3l3.6,3.8l-3.6,3.8l-3.6,-3.8zM892.6,470.5l3.6,3.8l-3.6,3.8l-3.6,-3.8zM896.7,468.4l3.6,3.8l-3.6,3.8l-3.6,-3.8zM900.7,469.4l3.6,3.8l-3.6,3.8l-3.6,-3.8zM904.8,471.7l3.6,3.8l-3.6,3.8l-3.6,-3.8zM908.9,470.5l3.6,3.8l-3.6,3.8l-3.6,-3.8zM913.0,466.8l3.6,3.8l-3.6,3.8l-3.6,-3.8zM917.0,469.1l3.6,3.8l-3.6,3.8l-3.6,-3.8zM921.1,471.4l3.6,3.8l-3.6,3.8l-3.6,-3.8zM925.2,469.5l3.6,3.8l-3.6,3.8l-3.6,-3.8zM929.2,468.0l3.6,3.8l-3.6,3.8l-3.6,-3.8zM933.3,468.9l3.6,3.8l-3.6,3.8l-3.6,-3.8zM937.4,472.0l3.6,3.8l-3.6,3.8l-3.6,-3.8zM941.4,468.6l3.6,3.8l-3.6,3.8l-3.6,-3.8zM945.5,467.9l3.6,3.8l-3.6,3.8l-3.6,-3.8zM949.6,468.8l3.6,3.8l-3.6,3.8l-3.6,-3.8zM953.6,470.3l3.6,3.8l-3.6,3.8l-3.6,-3.8zM957.7,469.7l3.6,3.8l-3.6,3.8l-3.6,-3.8zM961.8,466.8l3.6,3.8l-3.6,3.8l-3.6,-3.8zM965.8,468.3l3.6,3.8l-3.6,3.8l-3.6,-3.8zM969.9,470.6l3.6,3.8l-3.6,3.8l-3.6,-3.8zM974.0,468.7l3.6,3.8l-3.6,3.8l-3.6,-3.8zM978.0,466.5l3.6,3.8l-3.6,3.8l-3.6,-3.8zM982.1,467.5l3.6,3.8l-3.6,3.8l-3.6,-3.8zM986.2,471.2l3.6,3.8l-3.6,3.8l-3.6,-3.8zM990.2,467.8l3.6,3.8l-3.6,3.8l-3.6,-3.8zM994.3,466.3l3.6,3.8l-3.6,3.8l-3.6,-3.8zM998.4,467.8l3.6,3.8l-3.6,3.8l-3.6,-3.8zM1002.4,470.1l3.6,3.8l-3.6,3.8l-3.6,-3.8zM1006.5,468.1l3.6,3.8l-3.6,3.8l-3.6,-3.8zM1010.6,465.9l3.6,3.8l-3.6,3.8l-3.6,-3.8zM1014.7,467.5l3.6,3.8l-3.6,3.8l-3.6,-3.8zM1018.7,469.8l3.6,3.8l-3.6,3.8l-3.6,-3.8zM1022.8,467.9l3.6,3.8l-3.6,3.8l-3.6,-3.8zM1026.9,465.1l3.6,3.8l-3.6,3.8l-3.6,-3.8zM1030.9,468.1l3.6,3.8l-3.6,3.8l-3.6,-3.8zM1035.0,469.7l3.6,3.8l-3.6,3.8l-3.6,-3.8zM1039.1,467.0l3.6,3.8l-3.6,3.8l-3.6,-3.8zM1043.1,464.8l3.6,3.8l-3.6,3.8l-3.6,-3.8zM1047.2,466.4l3.6,3.8l-3.6,3.8l-3.6,-3.8zM1051.3,470.1l3.6,3.8l-3.6,3.8l-3.6,-3.8zM1055.3,468.2l3.6,3.8l-3.6,3.8l-3.6,-3.8zM1059.4,465.4l3.6,3.8l-3.6,3.8l-3.6,-3.8z" fill="#1f5f8f" stroke="#154a70" stroke-width="0.6"/>
<path d="M656.7,413.0l3.4,6.2h-6.8zM660.7,404.7l3.4,6.2h-6.8zM664.8,415.4l3.4,6.2h-6.8zM668.9,416.6l3.4,6.2h-6.8zM672.9,417.3l3.4,6.2h-6.8zM677.0,411.8l3.4,6.2h-6.8zM681.1,416.6l3.4,6.2h-6.8zM685.1,417.7l3.4,6.2h-6.8zM689.2,417.7l3.4,6.2h-6.8zM693.3,395.3l3.4,6.2h-6.8zM697.3,418.9l3.4,6.2h-6.8zM701.4,418.9l3.4,6.2h-6.8zM705.5,419.2l3.4,6.2h-6.8zM709.6,419.7l3.4,6.2h-6.8zM713.6,420.5l3.4,6.2h-6.8zM717.7,419.4l3.4,6.2h-6.8zM721.8,419.5l3.4,6.2h-6.8zM725.8,420.7l3.4,6.2h-6.8zM729.9,419.6l3.4,6.2h-6.8zM734.0,419.4l3.4,6.2h-6.8zM738.0,420.8l3.4,6.2h-6.8zM742.1,419.7l3.4,6.2h-6.8zM746.2,420.9l3.4,6.2h-6.8zM750.2,419.6l3.4,6.2h-6.8zM754.3,419.7l3.4,6.2h-6.8zM758.4,421.2l3.4,6.2h-6.8zM762.4,421.1l3.4,6.2h-6.8zM766.5,421.2l3.4,6.2h-6.8zM770.6,420.4l3.4,6.2h-6.8zM774.6,421.1l3.4,6.2h-6.8zM778.7,421.2l3.4,6.2h-6.8zM782.8,420.9l3.4,6.2h-6.8zM786.8,422.2l3.4,6.2h-6.8zM790.9,422.3l3.4,6.2h-6.8zM795.0,421.2l3.4,6.2h-6.8zM799.0,421.1l3.4,6.2h-6.8zM803.1,422.4l3.4,6.2h-6.8zM807.2,421.2l3.4,6.2h-6.8zM811.3,421.3l3.4,6.2h-6.8zM815.3,422.7l3.4,6.2h-6.8zM819.4,422.0l3.4,6.2h-6.8zM823.5,421.5l3.4,6.2h-6.8zM827.5,421.6l3.4,6.2h-6.8zM831.6,421.6l3.4,6.2h-6.8zM835.7,422.8l3.4,6.2h-6.8zM839.7,421.4l3.4,6.2h-6.8zM843.8,422.6l3.4,6.2h-6.8zM847.9,421.7l3.4,6.2h-6.8zM851.9,421.5l3.4,6.2h-6.8zM856.0,422.3l3.4,6.2h-6.8zM860.1,421.8l3.4,6.2h-6.8zM864.1,422.8l3.4,6.2h-6.8zM868.2,421.7l3.4,6.2h-6.8zM872.3,422.0l3.4,6.2h-6.8zM876.3,422.5l3.4,6.2h-6.8zM880.4,423.1l3.4,6.2h-6.8zM884.5,423.3l3.4,6.2h-6.8zM888.5,422.7l3.4,6.2h-6.8zM892.6,423.4l3.4,6.2h-6.8zM896.7,423.2l3.4,6.2h-6.8zM900.7,423.5l3.4,6.2h-6.8zM904.8,423.3l3.4,6.2h-6.8zM908.9,422.4l3.4,6.2h-6.8zM913.0,423.4l3.4,6.2h-6.8zM917.0,422.4l3.4,6.2h-6.8zM921.1,422.5l3.4,6.2h-6.8zM925.2,422.5l3.4,6.2h-6.8zM929.2,423.4l3.4,6.2h-6.8zM933.3,425.1l3.4,6.2h-6.8zM937.4,425.1l3.4,6.2h-6.8zM941.4,424.1l3.4,6.2h-6.8zM945.5,423.9l3.4,6.2h-6.8zM949.6,424.6l3.4,6.2h-6.8zM953.6,424.6l3.4,6.2h-6.8zM957.7,425.1l3.4,6.2h-6.8zM961.8,420.1l3.4,6.2h-6.8zM965.8,419.4l3.4,6.2h-6.8zM969.9,421.0l3.4,6.2h-6.8zM974.0,419.9l3.4,6.2h-6.8zM978.0,420.1l3.4,6.2h-6.8zM982.1,420.3l3.4,6.2h-6.8zM986.2,420.5l3.4,6.2h-6.8zM990.2,421.2l3.4,6.2h-6.8zM994.3,420.5l3.4,6.2h-6.8zM998.4,422.0l3.4,6.2h-6.8zM1002.4,420.8l3.4,6.2h-6.8zM1006.5,420.9l3.4,6.2h-6.8zM1010.6,422.0l3.4,6.2h-6.8zM1014.7,421.2l3.4,6.2h-6.8zM1018.7,422.3l3.4,6.2h-6.8zM1022.8,421.6l3.4,6.2h-6.8zM1026.9,421.5l3.4,6.2h-6.8zM1030.9,422.5l3.4,6.2h-6.8zM1035.0,422.7l3.4,6.2h-6.8zM1039.1,422.9l3.4,6.2h-6.8zM1043.1,423.1l3.4,6.2h-6.8zM1047.2,423.9l3.4,6.2h-6.8zM1051.3,422.9l3.4,6.2h-6.8zM1055.3,423.9l3.4,6.2h-6.8zM1059.4,423.4l3.4,6.2h-6.8z" fill="#60307f" stroke="#4a2065" stroke-width="0.6"/>
<path d="M705.8,570.7l3.6,3.8l-3.6,3.8l-3.6,-3.8z" fill="#1f5f8f"/>
<text x="715.8" y="579.6" font-size="15" font-weight="normal" fill="#595959" text-anchor="start" textLength="76" lengthAdjust="spacingAndGlyphs" >C/10; 25 °C</text>
<path d="M813.4,570.5l3.6,6.5h-7.2z" fill="#60307f"/>
<text x="822.6" y="579.6" font-size="15" font-weight="normal" fill="#595959" text-anchor="start" textLength="68.5" lengthAdjust="spacingAndGlyphs" >C/2; 50 °C</text>
<circle cx="911" cy="574.5" r="3.4" fill="#7a7a7a" stroke="#505050" stroke-width="0.9"/>
<text x="921" y="579.6" font-size="15" font-weight="normal" fill="#595959" text-anchor="start" textLength="69" lengthAdjust="spacingAndGlyphs" >C/2; 25 °C</text>
<g stroke="#9a9a9a" stroke-width="1.3" fill="#fff"><path d="M893,636 l-2,6 l7,-3.5 z"/><ellipse cx="905.5" cy="627.5" rx="14.5" ry="11"/><path d="M928,646 l3,5 l-8,-2.5 z"/><ellipse cx="919.5" cy="639" rx="12.5" ry="10"/></g>
<g fill="#9a9a9a"><circle cx="899.5" cy="623.5" r="1.5"/><circle cx="910.5" cy="623.5" r="1.5"/><circle cx="914.5" cy="636.5" r="1.4"/><circle cx="924.5" cy="636.5" r="1.4"/></g>
<path d="M948.0,623.5 L944.0,629.5 L953.0,628.5 M951.0,626.5 L953.0,629.0 M944.0,632.5 L944.0,647.5 M944.0,632.5 L953.0,632.5 L953.0,647.5 L951.0,647.5 M944.0,637.5 L953.0,637.5 M944.0,642.5 L953.0,642.5 M964.0,624.5 L957.0,628.5 M957.0,623.5 L957.0,632.5 L966.0,632.5 L966.0,630.5 M964.0,636.5 L957.0,640.5 M957.0,635.5 L957.0,645.5 L966.0,645.5 L966.0,643.5" fill="none" stroke="#8a8a8a" stroke-width="3.6" stroke-linecap="round" stroke-linejoin="round" opacity="0.85"/>
<path d="M948.0,623.5 L944.0,629.5 L953.0,628.5 M951.0,626.5 L953.0,629.0 M944.0,632.5 L944.0,647.5 M944.0,632.5 L953.0,632.5 L953.0,647.5 L951.0,647.5 M944.0,637.5 L953.0,637.5 M944.0,642.5 L953.0,642.5 M964.0,624.5 L957.0,628.5 M957.0,623.5 L957.0,632.5 L966.0,632.5 L966.0,630.5 M964.0,636.5 L957.0,640.5 M957.0,635.5 L957.0,645.5 L966.0,645.5 L966.0,643.5" fill="none" stroke="#ffffff" stroke-width="1.6" stroke-linecap="round" stroke-linejoin="round"/>
<path d="M970.0,625.5 L972.0,627.5 M969.0,631.5 L971.0,633.5 M969.0,645.5 L973.0,638.5 M976.0,624.5 L993.0,624.5 M976.0,624.5 L975.0,636.5 L973.0,647.5 M983.0,625.5 L982.0,628.5 M979.0,628.5 L989.0,628.5 L989.0,637.5 L979.0,637.5 L979.0,628.5 M979.0,633.0 L989.0,633.0 M984.0,637.5 L984.0,646.5 L982.0,646.5 M980.0,640.5 L978.0,644.5 M988.0,640.5 L991.0,644.5" fill="none" stroke="#8a8a8a" stroke-width="3.6" stroke-linecap="round" stroke-linejoin="round" opacity="0.85"/>
<path d="M970.0,625.5 L972.0,627.5 M969.0,631.5 L971.0,633.5 M969.0,645.5 L973.0,638.5 M976.0,624.5 L993.0,624.5 M976.0,624.5 L975.0,636.5 L973.0,647.5 M983.0,625.5 L982.0,628.5 M979.0,628.5 L989.0,628.5 L989.0,637.5 L979.0,637.5 L979.0,628.5 M979.0,633.0 L989.0,633.0 M984.0,637.5 L984.0,646.5 L982.0,646.5 M980.0,640.5 L978.0,644.5 M988.0,640.5 L991.0,644.5" fill="none" stroke="#ffffff" stroke-width="1.6" stroke-linecap="round" stroke-linejoin="round"/>
<path d="M1001.0,623.5 L1003.0,627.5 M1007.0,622.5 L1008.0,626.5 M1014.0,623.5 L1012.0,627.5 M997.0,631.5 L997.0,628.5 L1017.0,628.5 L1017.0,631.5 M1002.0,632.5 L1012.0,632.5 L1007.0,636.5 M1007.0,636.5 L1007.0,646.5 L1004.0,645.5 M996.0,639.5 L1018.0,639.5" fill="none" stroke="#8a8a8a" stroke-width="3.6" stroke-linecap="round" stroke-linejoin="round" opacity="0.85"/>
<path d="M1001.0,623.5 L1003.0,627.5 M1007.0,622.5 L1008.0,626.5 M1014.0,623.5 L1012.0,627.5 M997.0,631.5 L997.0,628.5 L1017.0,628.5 L1017.0,631.5 M1002.0,632.5 L1012.0,632.5 L1007.0,636.5 M1007.0,636.5 L1007.0,646.5 L1004.0,645.5 M996.0,639.5 L1018.0,639.5" fill="none" stroke="#ffffff" stroke-width="1.6" stroke-linecap="round" stroke-linejoin="round"/>
<path d="M1032.0,623.5 L1032.0,630.5 L1028.0,640.5 L1021.0,647.5 M1032.0,630.5 L1036.0,639.5 L1044.0,646.5" fill="none" stroke="#8a8a8a" stroke-width="3.6" stroke-linecap="round" stroke-linejoin="round" opacity="0.85"/>
<path d="M1032.0,623.5 L1032.0,630.5 L1028.0,640.5 L1021.0,647.5 M1032.0,630.5 L1036.0,639.5 L1044.0,646.5" fill="none" stroke="#ffffff" stroke-width="1.6" stroke-linecap="round" stroke-linejoin="round"/>
</svg></body></html>
